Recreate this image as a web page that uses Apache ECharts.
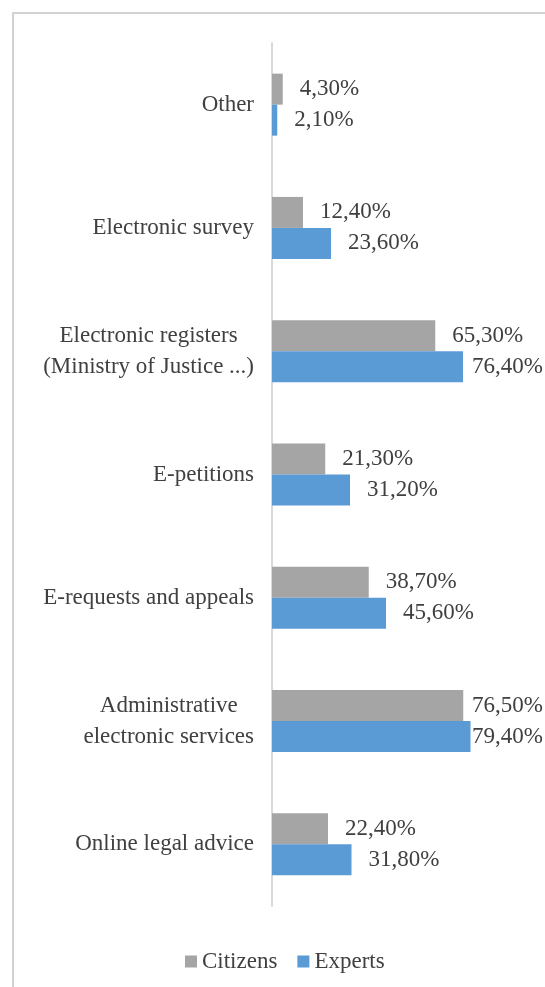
<!DOCTYPE html>
<html>
<head>
<meta charset="utf-8">
<script src="https://cdn.jsdelivr.net/npm/echarts@6/dist/echarts.min.js"></script>
<style>
  html, body { margin: 0; padding: 0; background: #ffffff; overflow: hidden; }
  #chart { position: absolute; left: 0; top: 0; width: 545px; height: 987px; }
  #frame {
    position: absolute; left: 12px; top: 12px; width: 700px; height: 1100px;
    border-left: 2px solid #d2d2d2; border-top: 2px solid #d2d2d2;
    pointer-events: none;
  }
</style>
</head>
<body>
<div id="chart"></div>
<div id="frame"></div>
<script>
// Categories listed top to bottom
const categories = [
  'Other',
  'Electronic survey',
  'Electronic registers\n(Ministry of Justice ...)',
  'E-petitions',
  'E-requests and appeals',
  'Administrative\nelectronic services',
  'Online legal advice'
];
const citizens = [4.3, 12.4, 65.3, 21.3, 38.7, 76.5, 22.4];
const experts  = [2.1, 23.6, 76.4, 31.2, 45.6, 79.4, 31.8];
const seriesNames = ['Citizens', 'Experts'];

const FONT = '"Liberation Serif", "Times New Roman", serif';
const TEXT = '#404040';
const LABEL_MAX_X = 472;   // value labels are kept left of this x
const LABEL_GAP = 17;

const fmt = v => v.toFixed(2).replace('.', ',') + '%';

const chart = echarts.init(document.getElementById('chart'), null, { renderer: 'canvas' });

function makeSeries(name, values, color, distances) {
  return {
    name: name,
    type: 'bar',
    barWidth: 31,
    barGap: '0%',
    itemStyle: { color: color },
    label: {
      show: true,
      position: 'right',
      fontFamily: FONT,
      fontSize: 23,
      color: TEXT,
      formatter: p => fmt(p.value)
    },
    data: values.map((v, i) => ({
      value: v,
      label: { distance: distances ? distances[i] : LABEL_GAP }
    }))
  };
}

function buildOption(dCit, dExp) {
  return {
    animation: false,
    backgroundColor: '#ffffff',
    grid: { left: 272, top: 43, width: 250, height: 863, containLabel: false },
    xAxis: {
      type: 'value', min: 0, max: 100, show: false
    },
    yAxis: {
      type: 'category',
      inverse: true,
      data: categories,
      axisLine: { show: true, lineStyle: { color: '#d9d9d9', width: 2 } },
      axisTick: { show: false },
      splitLine: { show: false },
      axisLabel: {
        margin: 18,
        fontFamily: FONT,
        fontSize: 23,
        color: TEXT,
        lineHeight: 31,
        formatter: v => v.split('\n').map(l => '{c|' + l + '}').join('\n'),
        rich: {
          c: { align: 'center', fontFamily: FONT, fontSize: 23, color: TEXT, lineHeight: 31 }
        }
      }
    },
    legend: {
      data: seriesNames,
      left: 180,
      top: 945,
      icon: 'rect',
      itemWidth: 12,
      itemHeight: 12,
      itemGap: 20,
      textStyle: { fontFamily: FONT, fontSize: 23, color: TEXT }
    },
    series: [
      makeSeries(seriesNames[0], citizens, '#a5a5a5', dCit),
      makeSeries(seriesNames[1], experts, '#5b9bd5', dExp)
    ]
  };
}

chart.setOption(buildOption());

// Pull value labels back when they would run past the right side
const dist = vals => vals.map(v => {
  const end = chart.convertToPixel({ gridIndex: 0 }, [v, 0])[0];
  return Math.max(0, Math.min(LABEL_GAP, LABEL_MAX_X - end));
});
chart.setOption(buildOption(dist(citizens), dist(experts)));
</script>
</body>
</html>
